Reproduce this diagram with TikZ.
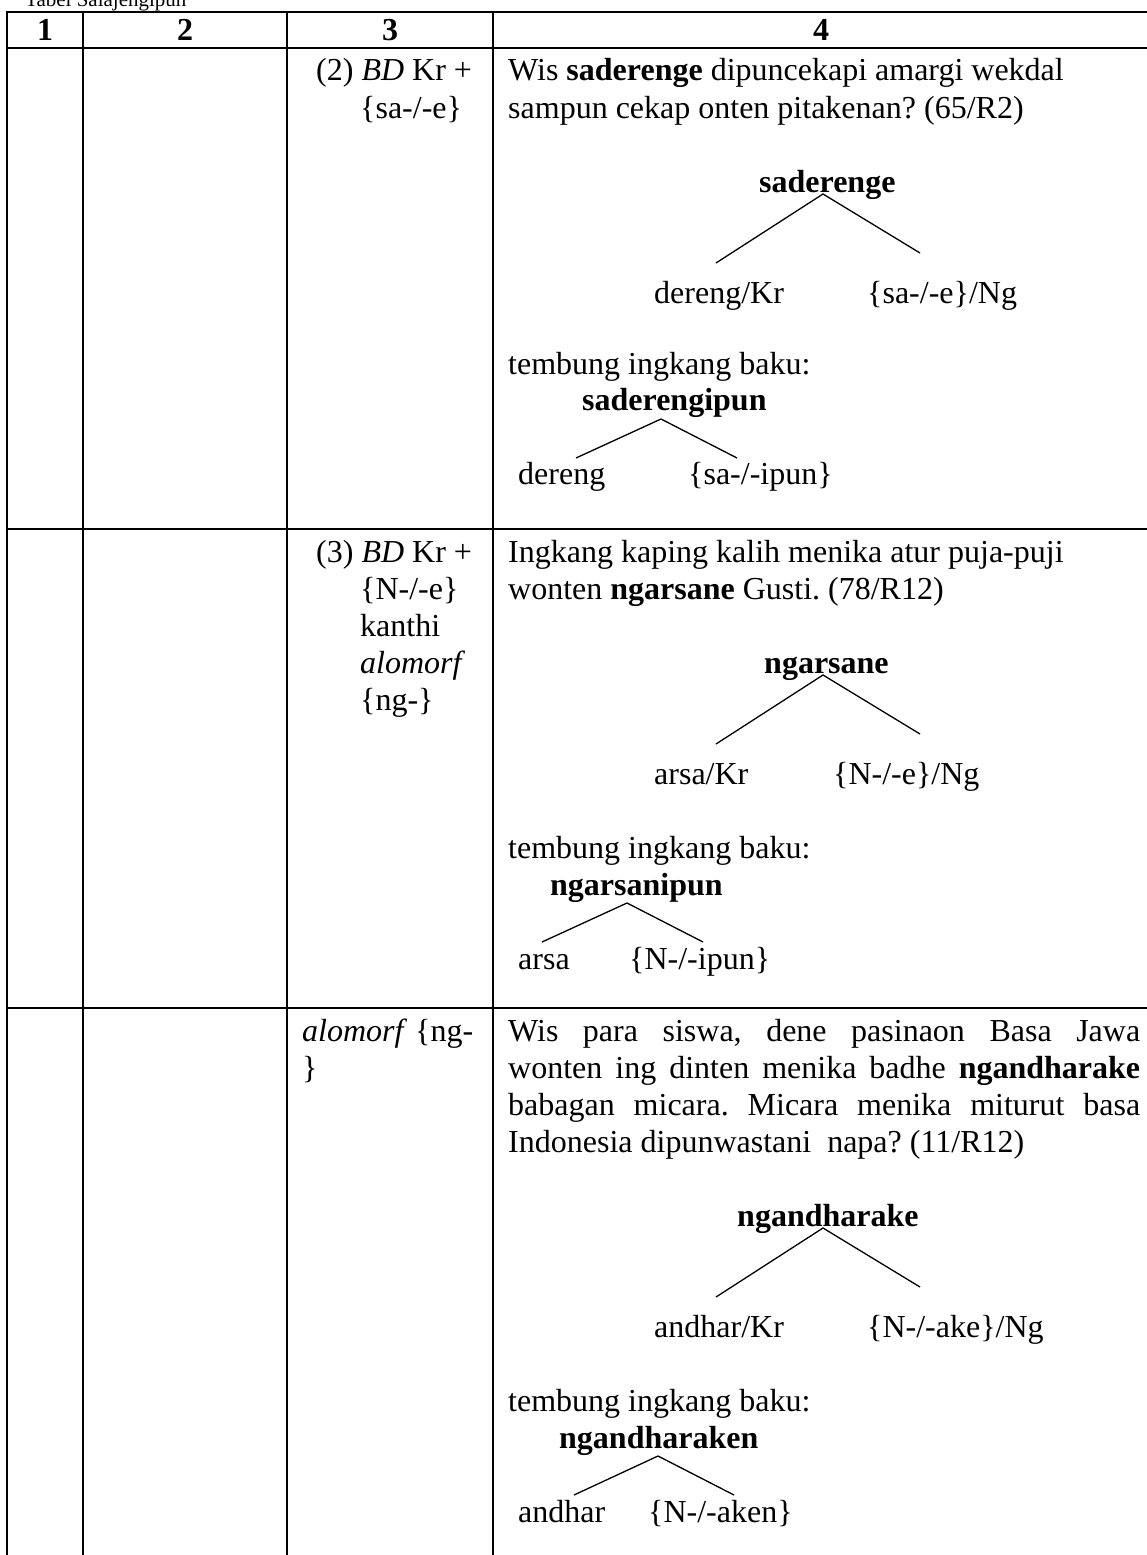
\documentclass[tikz,border=0pt]{standalone}
\usepackage{fontspec}
\setmainfont{Liberation Serif}
\frenchspacing
\begin{document}
\begin{tikzpicture}[x=1pt,y=-1pt,
  txt/.style={anchor=base west, inner sep=0pt, font=\fontsize{32}{37}\selectfont\frenchspacing},
  ttl/.style={anchor=base west, inner sep=0pt, font=\fontsize{21}{25}\selectfont},
  hdr/.style={anchor=base, inner sep=0pt, font=\fontsize{32}{37}\selectfont\bfseries},
  rule/.style={line width=2.6pt},
  branch/.style={line width=1.3pt}]
\useasboundingbox (0,0) rectangle (1147,1555);
\clip (0,0) rectangle (1147,1555);

% title (cut at top)
\node[ttl] (title) at (25,7) {Tabel Salajengipun};

% table rules
\draw[rule] (7,12) -- (1170,12);
\draw[rule] (7,48) -- (1170,48);
\draw[rule] (7,529) -- (1170,529);
\draw[rule] (7,1008) -- (1170,1008);
\draw[rule] (7,10.7) -- (7,1570);
\draw[rule] (83,10.7) -- (83,1570);
\draw[rule] (287,10.7) -- (287,1570);
\draw[rule] (493,10.7) -- (493,1570);

% header
\node[hdr] (h1) at (45,41) {1};
\node[hdr] (h2) at (185,41) {2};
\node[hdr] (h3) at (390,41) {3};
\node[hdr] (h4) at (821,41) {4};

% ---------- row 1 ----------
\node[txt] (c3a1) at (316,81) {(2) \textit{BD} Kr +};
\node[txt] (c3a2) at (360,118) {\{sa-/-e\}};
\node[txt] (a1) at (508,81) {Wis \textbf{saderenge} dipuncekapi amargi wekdal};
\node[txt] (a2) at (508,118) {sampun cekap onten pitakenan? (65/R2)};
\node[txt] (aroot) at (759,192) {\textbf{saderenge}};
\node[txt] (aleafl) at (654,303) {dereng/Kr};
\node[txt] (aleafr) at (867,303) {\{sa-/-e\}/Ng};
\node[txt] (atb) at (508,374) {tembung ingkang baku:};
\node[txt] (aroot2) at (582,410) {\textbf{saderengipun}};
\node[txt] (aleafl2) at (518,484) {dereng};
\node[txt] (aleafr2) at (688,484) {\{sa-/-ipun\}};
\coordinate (aap) at (823,194);
\coordinate (ael) at (716,263);
\coordinate (aer) at (920,253);
\draw[branch] (ael) -- (aap) -- (aer);
\coordinate (aap2) at (661,419);
\coordinate (ael2) at (576,458);
\coordinate (aer2) at (737,458);
\draw[branch] (ael2) -- (aap2) -- (aer2);

% ---------- row 2 ----------
\node[txt] (c3b1) at (316,562) {(3) \textit{BD} Kr +};
\node[txt] (c3b2) at (360,599) {\{N-/-e\}};
\node[txt] (c3b3) at (360,636) {kanthi};
\node[txt] (c3b4) at (360,673) {\textit{alomorf}};
\node[txt] (c3b5) at (360,710) {\{ng-\}};
\node[txt] (b1) at (508,562) {Ingkang kaping kalih menika atur puja-puji};
\node[txt] (b2) at (508,599) {wonten \textbf{ngarsane} Gusti. (78/R12)};
\node[txt] (broot) at (764,673) {\textbf{ngarsane}};
\node[txt] (bleafl) at (654,784) {arsa/Kr};
\node[txt] (bleafr) at (833,784) {\{N-/-e\}/Ng};
\node[txt] (btb) at (508,858) {tembung ingkang baku:};
\node[txt] (broot2) at (550,895) {\textbf{ngarsanipun}};
\node[txt] (bleafl2) at (518,969) {arsa};
\node[txt] (bleafr2) at (629,969) {\{N-/-ipun\}};
\coordinate (bap) at (823,675);
\coordinate (bel) at (716,744);
\coordinate (ber) at (920,734);
\draw[branch] (bel) -- (bap) -- (ber);
\coordinate (bap2) at (627,903);
\coordinate (bel2) at (542,942);
\coordinate (ber2) at (703,942);
\draw[branch] (bel2) -- (bap2) -- (ber2);

% ---------- row 3 ----------
\node[txt] (c3c1) at (302,1041) {\textit{alomorf} \{ng-};
\node[txt] (c3c2) at (302,1078) {\}};
\node[txt] (c1) at (508,1041) {\makebox[632pt][s]{Wis para siswa, dene pasinaon Basa Jawa}};
\node[txt] (c2) at (508,1078) {\makebox[632pt][s]{wonten ing dinten menika badhe \textbf{ngandharake}}};
\node[txt] (c3) at (508,1115) {\makebox[632pt][s]{babagan micara. Micara menika miturut basa}};
\node[txt] (c4) at (508,1152) {Indonesia dipunwastani\ \ napa? (11/R12)};
\node[txt] (croot) at (737,1226) {\textbf{ngandharake}};
\node[txt] (cleafl) at (654,1337) {andhar/Kr};
\node[txt] (cleafr) at (867,1337) {\{N-/-ake\}/Ng};
\node[txt] (ctb) at (508,1411) {tembung ingkang baku:};
\node[txt] (croot2) at (559,1448) {\textbf{ngandharaken}};
\node[txt] (cleafl2) at (518,1522) {andhar};
\node[txt] (cleafr2) at (648,1522) {\{N-/-aken\}};
\coordinate (cap) at (823,1228);
\coordinate (cel) at (716,1297);
\coordinate (cer) at (920,1287);
\draw[branch] (cel) -- (cap) -- (cer);
\coordinate (cap2) at (658,1456);
\coordinate (cel2) at (574,1495);
\coordinate (cer2) at (734,1495);
\draw[branch] (cel2) -- (cap2) -- (cer2);
\end{tikzpicture}
\end{document}
